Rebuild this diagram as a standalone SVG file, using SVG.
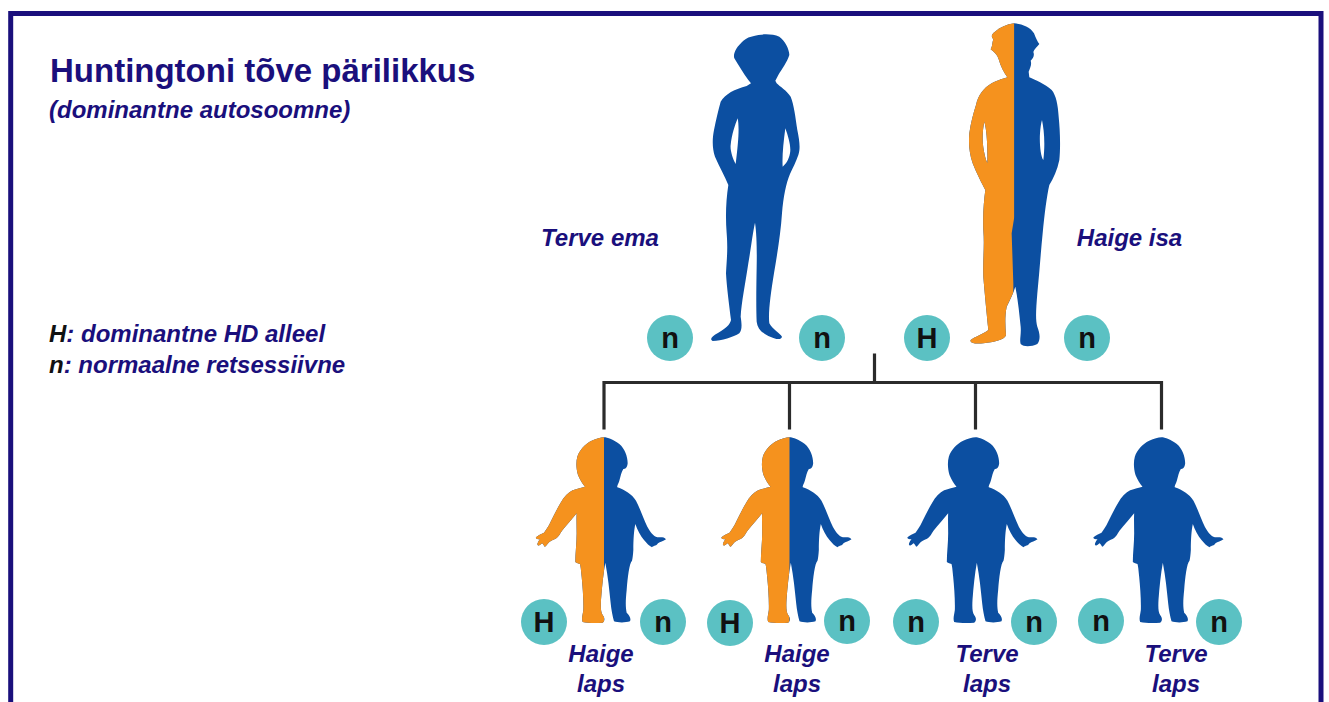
<svg xmlns="http://www.w3.org/2000/svg" xmlns:xlink="http://www.w3.org/1999/xlink" width="1329" height="702" viewBox="0 0 1329 702">
  <style>
    .frame { fill: none; stroke: #1a0f7c; stroke-width: 5; }
    .title { font-family: "Liberation Sans", Arial, sans-serif; font-weight: bold; font-size: 33px; fill: #1a0f7c; }
    .sub { font-family: "Liberation Sans", Arial, sans-serif; font-weight: bold; font-style: italic; font-size: 24px; fill: #1a0f7c; }
    .key { fill: #111111; }
    .label { font-family: "Liberation Sans", Arial, sans-serif; font-weight: bold; font-style: italic; font-size: 24px; fill: #1a0f7c; text-anchor: middle; }
    .blue { fill: #0c4fa1; fill-rule: evenodd; }
    .orange { fill: #f5921e; fill-rule: evenodd; }
    .allele circle { fill: #5bc1c3; }
    .allele text { font-family: "Liberation Sans", Arial, sans-serif; font-weight: bold; font-size: 29px; fill: #111111; text-anchor: middle; }
    .link { fill: none; stroke: #2b2b2b; stroke-width: 3.2; stroke-linecap: square; }
  </style>
  <defs>
    <!-- adult woman silhouette, drawn at 3x, anchored at its own origin -->
    <path id="woman" d="M222,48 C240,42 275,40 298,50 C315,62 328,88 328,105 C322,125 305,148 295,165 L286,182 L290,190 C300,200 320,212 332,230 C342,255 346,290 352,330 C358,360 362,385 355,405 C348,425 338,445 330,462 C318,490 310,530 306,580 C302,640 292,700 282,760 C272,820 264,880 268,910 C278,928 300,940 306,950 C304,960 290,960 265,948 C245,938 232,925 230,905 C228,860 229,800 230,740 C231,690 230,640 225,608 C218,640 212,690 205,730 C196,790 184,850 182,890 C186,915 186,930 178,940 C160,952 125,962 98,963 C88,958 95,948 115,938 C135,926 150,915 153,900 C148,860 140,800 138,760 C140,720 144,690 140,640 C136,590 138,540 145,495 C135,470 118,440 105,410 C96,385 97,355 102,330 C108,300 115,270 122,245 C135,222 165,207 200,198 L213,190 L205,180 C190,160 175,135 163,115 C158,100 170,80 190,62 C200,54 210,50 222,48 Z M173,295 C178,320 176,360 167,432 C158,415 150,390 152,375 C155,345 165,315 173,295 Z M316,325 C325,350 334,380 330,400 C326,420 318,432 308,440 C306,410 310,370 316,325 Z"/>
    <!-- adult man silhouette, drawn at 3x -->
    <path id="man" d="M193,10 C215,12 240,20 252,40 C258,55 262,65 268,72 C262,80 252,88 250,96 C254,106 250,115 242,122 C246,132 240,145 236,155 L238,172 C255,180 285,192 305,210 C318,225 324,255 326,290 C330,330 332,380 328,420 C322,450 310,475 298,495 C290,530 284,580 278,640 C272,700 268,760 262,820 C258,870 256,900 262,920 C270,940 272,960 262,972 C245,980 222,982 212,972 C208,960 214,945 212,920 C208,880 204,840 196,800 C190,820 180,840 170,860 C164,890 166,920 168,945 C165,960 130,966 100,970 C75,973 58,968 62,960 C75,950 100,942 115,930 C110,880 104,820 100,770 C98,720 104,680 100,630 C98,580 102,540 106,510 C95,490 80,460 68,430 C58,400 55,370 58,340 C62,310 70,280 78,255 C85,225 100,205 125,190 C145,180 162,175 172,172 C162,158 152,140 146,118 C142,104 132,96 122,88 C128,78 126,68 130,58 C122,50 125,42 135,35 C150,22 170,13 193,10 Z M103,305 C110,330 113,370 112,430 C104,410 98,380 98,355 C98,335 100,318 103,305 Z M276,300 C282,330 286,370 280,420 C272,410 268,370 270,340 C271,325 273,310 276,300 Z"/>
    <!-- toddler silhouette, drawn at 3x, vertical midline at x=222 -->
    <path id="child" d="M222,22 C232,22 252,30 268,42 C284,56 293,78 293,100 C292,110 288,118 280,117 C274,125 272,140 268,152 C265,162 260,168 262,172 C285,180 305,192 318,212 C330,235 340,265 352,290 C360,305 370,318 382,322 C392,322 402,320 408,328 C400,334 390,336 384,340 C380,348 372,346 366,352 C358,348 350,340 342,330 C332,318 322,300 316,282 C312,300 310,330 310,360 C309,375 308,385 306,392 C298,400 293,440 290,480 C287,510 286,530 290,548 C298,556 304,565 300,574 C285,579 262,578 252,574 C248,560 244,540 242,520 C238,480 234,440 226,398 C220,430 216,470 213,510 C212,530 212,545 218,555 C226,565 224,574 218,578 C200,580 175,580 158,576 C154,566 158,555 160,540 C161,510 158,470 155,440 C153,420 152,408 150,402 C143,400 138,398 136,396 C136,370 140,340 140,310 C140,290 139,270 140,250 C128,265 110,285 96,302 C90,312 85,320 80,324 C74,328 66,330 58,336 C52,342 48,350 44,350 C40,344 38,340 36,340 C30,346 24,350 22,342 C24,336 28,330 30,328 C24,328 16,327 18,322 C24,316 34,312 42,308 C48,300 55,290 62,275 C72,255 82,235 92,218 C102,200 115,188 128,181 C142,176 155,173 165,170 C158,162 150,150 144,135 C138,115 138,95 142,80 C148,60 165,42 185,32 C200,26 212,22 222,22 Z"/>
    <clipPath id="manLeft" clipPathUnits="userSpaceOnUse">
      <path d="M0,0 L193,0 L193,590 L185,640 L190,790 L190,1000 L0,1000 Z"/>
    </clipPath>
    <clipPath id="childLeft" clipPathUnits="userSpaceOnUse">
      <rect x="0" y="0" width="222" height="600"/>
    </clipPath>
  </defs>

  <rect class="frame" x="10.7" y="13.5" width="1310.3" height="720"/>

  <g id="heading">
    <text class="title" x="50" y="82">Huntingtoni tõve pärilikkus</text>
    <text class="sub" x="49" y="118">(dominantne autosoomne)</text>
  </g>

  <g id="legend">
    <text class="sub" x="49" y="342"><tspan class="key">H</tspan>: dominantne HD alleel</text>
    <text class="sub" x="49" y="373"><tspan class="key">n</tspan>: normaalne retsessiivne</text>
  </g>

  <g id="connectors">
    <path class="link" d="M874.5,355 V382.5 M604,382.5 H1161.5 M604,382.5 V428 M789.5,382.5 V428 M975.5,382.5 V428 M1161.5,382.5 V428"/>
  </g>

  <g id="mother">
    <use xlink:href="#woman" class="blue" transform="translate(680,20) scale(0.33333)"/>
    <text class="label" x="600" y="246">Terve ema</text>
    <g class="allele"><circle cx="670" cy="338" r="23"/><text x="670" y="348">n</text></g>
    <g class="allele"><circle cx="822" cy="338" r="23"/><text x="822" y="348">n</text></g>
  </g>

  <g id="father">
    <g transform="translate(950,20) scale(0.33333)">
      <use xlink:href="#man" class="blue"/>
      <use xlink:href="#man" class="orange" clip-path="url(#manLeft)"/>
    </g>
    <text class="label" x="1129.5" y="246">Haige isa</text>
    <g class="allele"><circle cx="927" cy="338" r="23"/><text x="927" y="348">H</text></g>
    <g class="allele"><circle cx="1087" cy="338" r="23"/><text x="1087" y="348">n</text></g>
  </g>

  <g id="child1">
    <g transform="translate(530,430) scale(0.33333)">
      <use xlink:href="#child" class="blue"/>
      <use xlink:href="#child" class="orange" clip-path="url(#childLeft)"/>
    </g>
    <g class="allele"><circle cx="544" cy="622" r="23"/><text x="544" y="632">H</text></g>
    <g class="allele"><circle cx="663" cy="622" r="23"/><text x="663" y="632">n</text></g>
    <text class="label" x="601" y="662">Haige</text>
    <text class="label" x="601" y="692">laps</text>
  </g>

  <g id="child2">
    <g transform="translate(715.5,430) scale(0.33333)">
      <use xlink:href="#child" class="blue"/>
      <use xlink:href="#child" class="orange" clip-path="url(#childLeft)"/>
    </g>
    <g class="allele"><circle cx="730" cy="623" r="23"/><text x="730" y="633">H</text></g>
    <g class="allele"><circle cx="847" cy="621" r="23"/><text x="847" y="631">n</text></g>
    <text class="label" x="797" y="662">Haige</text>
    <text class="label" x="797" y="692">laps</text>
  </g>

  <g id="child3">
    <use xlink:href="#child" class="blue" transform="translate(901.5,430) scale(0.33333)"/>
    <g class="allele"><circle cx="916" cy="622" r="23"/><text x="916" y="632">n</text></g>
    <g class="allele"><circle cx="1034" cy="622" r="23"/><text x="1034" y="632">n</text></g>
    <text class="label" x="987" y="662">Terve</text>
    <text class="label" x="987" y="692">laps</text>
  </g>

  <g id="child4">
    <use xlink:href="#child" class="blue" transform="translate(1087.5,430) scale(0.33333)"/>
    <g class="allele"><circle cx="1101" cy="621" r="23"/><text x="1101" y="631">n</text></g>
    <g class="allele"><circle cx="1219" cy="622" r="23"/><text x="1219" y="632">n</text></g>
    <text class="label" x="1176" y="662">Terve</text>
    <text class="label" x="1176" y="692">laps</text>
  </g>
</svg>
